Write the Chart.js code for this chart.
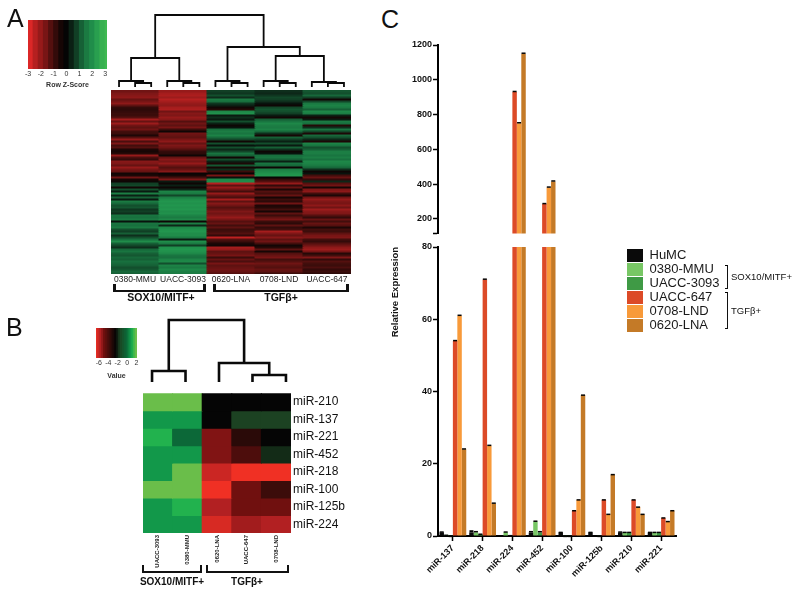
<!DOCTYPE html>
<html>
<head>
<meta charset="utf-8">
<script src="https://cdn.jsdelivr.net/npm/chart.js@4"></script>
<style>
html,body{margin:0;padding:0;background:#fff;width:800px;height:596px;overflow:hidden}
canvas{position:absolute}
.t{position:absolute;font-family:"Liberation Sans",Arial,sans-serif;color:#111;white-space:nowrap;line-height:1}
.c{transform:translateX(-50%)}
.b{position:absolute;box-sizing:border-box;border-style:solid;border-color:#111;border-top:0}
</style>
</head>
<body>
<canvas id="keyA" width="99" height="69" style="left:18px;top:20px"></canvas>
<canvas id="dendroA" width="241" height="80" style="left:111px;top:10px"></canvas>
<canvas id="heatA" width="240" height="200" style="left:111px;top:90px"></canvas>
<canvas id="keyB" width="61" height="52" style="left:86px;top:328px"></canvas>
<canvas id="dendroB" width="152" height="70" style="left:143px;top:315px"></canvas>
<canvas id="heatB" width="208" height="189" style="left:143px;top:384px"></canvas>
<canvas id="barUpper" width="292" height="203" style="left:388px;top:37px"></canvas>
<canvas id="barLower" width="292" height="356" style="left:388px;top:240px"></canvas>
<canvas id="legendC" width="110" height="90" style="left:626px;top:248px"></canvas>

<div class="t" style="left:7px;top:6px;font-size:25px">A</div>
<div class="t" style="left:6px;top:315px;font-size:25px">B</div>
<div class="t" style="left:381px;top:7px;font-size:25px">C</div>

<div class="b" style="left:113px;top:284px;width:93px;height:8px;border-width:0 3px 2px 3px"></div>
<div class="b" style="left:213px;top:284px;width:136px;height:8px;border-width:0 3px 2px 3px"></div>
<div class="t c" style="left:161px;top:292px;font-size:10.5px;font-weight:bold">SOX10/MITF+</div>
<div class="t c" style="left:281px;top:292px;font-size:10.5px;font-weight:bold">TGFβ+</div>

<div class="b" style="left:142px;top:565px;width:60px;height:8px;border-width:0 2px 2px 2px"></div>
<div class="b" style="left:206px;top:565px;width:83px;height:8px;border-width:0 2px 2px 2px"></div>
<div class="t c" style="left:172px;top:577px;font-size:10px;font-weight:bold;font-family:'Liberation Sans Narrow','Liberation Sans',sans-serif">SOX10/MITF+</div>
<div class="t c" style="left:247px;top:577px;font-size:10px;font-weight:bold;font-family:'Liberation Sans Narrow','Liberation Sans',sans-serif">TGFβ+</div>

<div class="b" style="left:725px;top:265px;width:3px;height:24px;border-width:1px 1px 1px 0;border-top-style:solid"></div>
<div class="b" style="left:725px;top:292px;width:3px;height:37px;border-width:1px 1px 1px 0;border-top-style:solid"></div>
<div class="t" style="left:731px;top:272px;font-size:9.5px">SOX10/MITF+</div>
<div class="t" style="left:731px;top:306px;font-size:9.5px">TGFβ+</div>

<script>
const FONT = '"Liberation Sans", Arial, sans-serif';
Chart.defaults.font.family = FONT;
Chart.defaults.animation = false;
Chart.defaults.responsive = false;
Chart.defaults.plugins.legend.display = false;
Chart.defaults.plugins.tooltip.enabled = false;

/* ---------- Panel A: z-scores, 92 rows top to bottom ---------- */
const samplesA = ['0380-MMU','UACC-3093','0620-LNA','0708-LND','UACC-647'];
const a0380 = [-1.5,-1.7,-1.8,-1.9,-1.4,-1.6,-1.9,-1.3,-0.8,-0.7,-0.8,-0.9,-0.9,-1.2,-2.2,-1.4,-2.1,-1.5,-1.3,-1.5,-1.0,-0.9,-0.5,-1.2,-2.0,-1.1,-1.7,-1.0,-1.2,-0.5,-0.4,
 -0.6,-2.0,-1.1,-0.8,-1.8,-1.7,-1.4,-2.0,-1.6,-1.4,-0.3,-0.5,-1.5,-0.4,-0.2,0.8,0.9,-0.3,1.0,0.3,1.7,0.4,1.2,0.3,1.6,1.3,1.0,1.1,0.7,0.8,0.6,
 1.5,1.4,1.6,0.2,1.5,1.4,1.6,1.0,0.8,1.2,0.6,1.0,1.4,2.0,1.2,0.9,0.6,1.3,1.5,1.2,1.1,1.3,1.2,1.4,1.3,1.2,1.0,1.1,1.3,1.2];
const a3093 = [-2.0,-2.2,-2.3,-2.1,-2.4,-2.2,-2.0,-1.9,-2.2,-2.3,-1.5,-1.8,-1.7,-2.0,-1.8,-1.2,-1.5,-1.3,-1.6,-0.9,-0.2,-1.5,-1.4,-1.3,-1.6,-1.9,-1.4,-1.7,-1.5,-1.2,-0.8,
 -0.7,-0.2,-1.4,-1.8,-1.6,-2.0,-1.5,-1.2,-1.4,-1.8,-0.1,-0.4,-1.0,-1.7,0.3,-0.2,0.4,-0.2,0.5,1.8,1.6,0.9,1.7,2.0,2.2,2.1,2.2,2.1,2.2,2.0,2.1,
 1.8,1.6,1.9,-0.2,1.7,0.5,1.9,2.1,2.2,2.0,2.0,1.6,0.3,2.0,1.6,0.8,2.1,2.2,2.1,1.9,1.5,1.4,1.8,1.9,1.0,1.8,1.6,1.9,1.7,1.6];
const a0620 = [0.8,0.7,1.0,0.6,1.6,1.4,0.7,0.4,-0.3,-0.6,1.9,2.1,0.3,0.6,0.3,1.0,0.4,-0.2,0.2,1.4,1.7,1.5,1.8,1.3,0.9,-0.3,1.0,0.2,1.0,0.5,0.9,
 1.5,1.2,-0.3,1.0,0.4,-0.5,1.1,-0.4,0.6,-0.9,-0.1,-1.6,0.2,1.9,2.0,-2.4,-1.3,-2.0,-1.5,-1.0,-2.0,-1.4,-1.1,-2.2,-1.3,-1.8,-1.5,-1.2,-1.4,-1.7,-1.5,
 -1.7,-2.0,-1.6,-1.2,-1.4,-1.0,-1.3,-0.9,-1.0,-1.2,-0.8,-2.5,-1.2,-0.9,-0.5,-0.3,-2.2,-2.0,-1.3,-1.4,-1.6,-0.9,-1.4,-1.1,-1.6,-1.3,-1.4,-1.5,-1.4,-1.2];
const a0708 = [0.6,0.5,0.7,0.9,0.8,0.6,0.2,-0.2,0.9,1.1,1.0,0.8,0.3,-0.3,1.2,1.5,1.9,1.7,1.6,1.8,1.3,0.6,-0.4,1.2,0.8,0.4,1.0,0.3,1.2,0.6,-0.2,
 0.2,1.4,1.5,1.2,0.4,1.5,1.3,-0.2,1.7,1.9,2.1,2.2,-0.1,-0.8,-1.2,-2.0,-0.8,-1.4,-0.5,-1.2,-1.0,-1.4,-0.4,-0.9,-0.7,-1.5,-0.5,-0.6,-1.0,-0.4,-1.3,
 -0.9,-1.3,-1.6,-0.9,-0.7,-1.3,-0.8,-1.0,-2.2,-1.7,-1.4,-1.8,-1.3,-1.5,-1.0,-0.3,-0.6,-1.3,-0.4,-1.2,-1.4,-1.6,-1.0,-1.2,-1.5,-1.3,-1.2,-1.4,-1.3,-0.9];
const a647 = [1.1,1.0,1.3,0.8,-0.3,0.9,1.6,1.8,1.6,1.2,1.9,1.7,0.4,-0.4,0.3,1.6,1.4,-0.6,0.6,1.5,0.9,-0.5,1.3,1.0,0.5,-0.5,1.8,1.5,1.0,1.2,1.7,
 1.7,1.5,1.7,1.4,1.9,1.8,1.6,1.3,0.6,-0.2,0.2,-1.0,-1.4,-0.8,0.5,-1.2,-1.5,-0.4,-1.7,-1.9,-1.0,-0.5,-1.5,-2.0,-1.7,-1.6,-1.9,-1.5,-2.1,-1.8,-1.7,
 -1.2,-0.8,-1.4,-1.0,-1.4,-1.2,-0.5,-1.0,-0.9,-1.3,-1.6,-1.7,-1.0,-0.8,-1.2,-1.5,-1.9,-2.1,-1.6,-0.6,-1.0,-1.7,-0.8,-1.2,-1.0,-0.9,-1.1,-0.8,-0.9,-0.7];
const keyAValues = [-2.8,-2.4,-2,-1.6,-1.2,-0.8,-0.4,0,0.4,0.8,1.2,1.6,2,2.4,2.8,3.2];

/* dendrogram links: left leaf, right leaf, left base, right base, top */
const dendroALinks = [
 [1,2,0,0,4],[0,1.5,0,4,6],[4,5,0,0,4],[3,4.5,0,4,6],[7,8,0,0,4],[6,7.5,0,4,6],
 [10,11,0,0,4],[9,10.5,0,4,6],[13,14,0,0,4],[12,13.5,0,4,5],
 [0.75,3.75,6,6,29],[9.75,12.75,6,5,31],[6.75,11.25,6,31,40],[2.25,9,29,40,72]];

/* ---------- Panel B ---------- */
const samplesB = ['UACC-3093','0380-MMU','0620-LNA','UACC-647','0708-LND'];
const mirsB = ['miR-210','miR-137','miR-221','miR-452','miR-218','miR-100','miR-125b','miR-224'];
const b3093 = [1.9,0.8,1.3,0.8,0.8,1.9,0.8,0.8];
const b0380 = [1.9,0.8,0.0,0.8,1.9,1.9,1.3,0.8];
const b0620 = [-2.3,-2.3,-5.0,-5.0,-6.0,-6.6,-5.6,-6.2];
const b647  = [-2.3,-1.5,-3.2,-4.0,-6.6,-4.8,-4.8,-5.4];
const b0708 = [-2.3,-1.5,-2.3,-1.8,-6.6,-3.6,-4.8,-5.6];
const keyBValues = [-6.4,-6,-5.6,-5.2,-4.8,-4.4,-4,-3.6,-3.2,-2.8,-2.4,-2,-1.6,-1.2,-0.8,-0.4,0,0.4,0.8,1.2,1.6,2];
const dendroBLinks = [[0,1,0,0,11],[3,4,0,0,7],[2,3.5,0,7,19],[0.5,2.75,11,19,62]];

/* ---------- Panel C ---------- */
const mirsC = ['miR-137','miR-218','miR-224','miR-452','miR-100','miR-125b','miR-210','miR-221'];
const seriesNames = ['HuMC','0380-MMU','UACC-3093','UACC-647','0708-LND','0620-LNA'];
const humc    = [1,1,0,1,1,1,1,1];
const mmu0380 = [0.3,1,1,4,0.1,0,1,1];
const uacc3093= [0.1,0.5,0.2,1,0.1,0.1,1,1];
const uacc647 = [54,71,930,285,7,10,10,5];
const lnd0708 = [61,25,750,380,10,6,8,4];
const lna0620 = [24,9,1150,415,39,17,6,7];
const errHumc = [0.3,0.6,0,0.4,0.2,0.2,0.3,0.2];
const err0380 = [0.1,0.4,0.3,0.3,0,0,0.2,0.2];
const err3093 = [0,0.2,0.1,0.4,0,0,0.2,0.2];
const err647  = [0.3,0.3,7,7,0.2,0.2,0.2,0.2];
const err0708 = [0.3,0.3,7,7,0.2,0.2,0.2,0.2];
const err0620 = [0.3,0.3,7,7,0.2,0.2,0.2,0.2];
const seriesColors = ['#0a0a0a','#78c765','#3f9a45','#dc4a27','#f89a3a','#c47a27'];

/* ---------- helpers ---------- */
function mix(stops, v){
  const css = c => 'rgb(' + c.map(Math.round).join(',') + ')';
  if (v <= stops[0][0]) return css(stops[0][1]);
  for (let i = 1; i < stops.length; i++){
    if (v <= stops[i][0]){
      const [a,ca] = stops[i-1], [b,cb] = stops[i], t = (v-a)/(b-a);
      return css(ca.map((c,k)=>c+(cb[k]-c)*t));
    }
  }
  return css(stops[stops.length-1][1]);
}
const stopsA = [[-3,[238,42,42]],[-2.3,[172,30,30]],[-1.5,[112,20,20]],[-1,[66,14,12]],[-0.4,[22,6,5]],[0,[5,5,5]],[0.6,[14,46,28]],[1.4,[24,112,62]],[2.2,[34,150,78]],[3,[62,185,80]]];
const colorA = v => mix(stopsA, v);
const stopsB = [[-6.6,[240,48,36]],[-5.6,[178,32,34]],[-4.8,[112,16,15]],[-3.2,[42,10,8]],[-2.3,[5,5,5]],[-1.5,[28,66,34]],[0,[12,104,56]],[0.8,[18,152,74]],[1.3,[34,178,78]],[1.9,[106,190,74]],[2.1,[106,190,74]]];
const colorB = v => mix(stopsB, v);

function heatmap(id, columns, rowCount, colorOf, labels, extra){
  const datasets = [];
  for (let r = 0; r < rowCount; r++){
    datasets.push({
      data: columns.map(()=>1),
      backgroundColor: columns.map(col=>colorOf(col[r])),
      borderWidth: 0, inflateAmount: 0.5,
      barPercentage: 1, categoryPercentage: 1, stack: 'h'
    });
  }
  return new Chart(document.getElementById(id), {
    type:'bar',
    data:{labels, datasets},
    options:Object.assign({layout:{autoPadding:false}}, extra)
  });
}

heatmap('heatA',[a0380,a3093,a0620,a0708,a647],92,colorA,samplesA,{
  scales:{
    x:{stacked:true,grid:{display:false,drawTicks:false},border:{display:false},
       ticks:{color:'#222',font:{size:8.5},padding:1,maxRotation:0,minRotation:0,autoSkip:false},
       afterFit:s=>{s.height=16}},
    y:{stacked:true,reverse:true,min:0,max:92,display:false}
  }
});

heatmap('heatB',[b3093,b0380,b0620,b647,b0708],8,colorB,samplesB,{
  scales:{
    x:{stacked:true,grid:{display:false,drawTicks:false},border:{display:false},
       ticks:{color:'#222',font:{size:6,weight:'bold'},padding:2,maxRotation:90,minRotation:90,autoSkip:false},
       afterFit:s=>{s.height=40}},
    y:{stacked:true,reverse:true,min:0,max:8,position:'right',
       grid:{display:false,drawTicks:false},border:{display:false},
       afterBuildTicks:s=>{s.ticks=mirsB.map((m,i)=>({value:i+0.5}))},
       ticks:{color:'#111',font:{size:12},padding:2,autoSkip:false,
              callback:v=>mirsB[Math.floor(v)]},
       afterFit:s=>{s.width=60}}
  }
});

function colorKey(id, values, colorOf, min, max, step, title, pad, axisH, tsize){
  return new Chart(document.getElementById(id),{
    type:'bar',
    data:{datasets:[{
      data:values.map(v=>({x:v,y:1})),
      backgroundColor:values.map(colorOf),
      borderWidth:0,inflateAmount:0.5,barPercentage:1,categoryPercentage:1
    }]},
    options:{
      layout:{autoPadding:false,padding:pad},
      scales:{
        x:{type:'linear',offset:false,min,max,grid:{display:false,drawTicks:false},border:{display:false},
           ticks:{stepSize:step,includeBounds:false,color:'#333',font:{size:tsize},padding:1,maxRotation:0},
           title:{display:true,text:title,color:'#333',font:{size:tsize,weight:'bold'},padding:{top:0,bottom:0}},
           afterFit:s=>{s.height=axisH}},
        y:{display:false,min:0,max:1}
      }
    }
  });
}
colorKey('keyA',keyAValues,colorA,-3,3.15,1,'Row Z-Score',{left:10,right:10,top:0,bottom:0},20,7);
colorKey('keyB',keyBValues,colorB,-6.6,2.1,2,'Value',{left:10,right:10,top:0,bottom:0},22,7);

function dendro(id, links, xmin, xmax, ymin, ymax, lw){
  return new Chart(document.getElementById(id),{
    type:'scatter',
    data:{datasets:links.map(([x1,x2,b1,b2,t])=>({
      data:[{x:x1,y:b1},{x:x1,y:t},{x:x2,y:t},{x:x2,y:b2}],
      showLine:true,pointRadius:0,borderColor:'#0a0a0a',borderWidth:lw,
      tension:0,clip:false,borderJoinStyle:'miter'
    }))},
    options:{
      layout:{autoPadding:false},
      scales:{x:{type:'linear',display:false,min:xmin,max:xmax},y:{type:'linear',display:false,min:ymin,max:ymax}}
    }
  });
}
dendro('dendroA',dendroALinks,-0.5,14.5,-3,77,1.8);
dendro('dendroB',dendroBLinks,-0.27,4.27,-3,67,2.6);

/* bars */
const seriesData = [humc,mmu0380,uacc3093,uacc647,lnd0708,lna0620];
const seriesErr  = [errHumc,err0380,err3093,err647,err0708,err0620];
const errorCaps = {
  id:'errorCaps',
  afterDatasetsDraw(chart){
    const {ctx,scales:{y}} = chart;
    ctx.save();
    ctx.fillStyle='#050505';
    seriesData.forEach((vals,i)=>{
      chart.getDatasetMeta(i).data.forEach((bar,j)=>{
        const v = vals[j], e = seriesErr[i][j];
        if (v <= 0 || v + e > y.max || v < y.min) return;
        const top = y.getPixelForValue(v+e), base = y.getPixelForValue(v);
        ctx.fillRect(bar.x-2, top, 4, Math.max(1.5, base-top));
      });
    });
    ctx.restore();
  }
};
const barDatasets = () => seriesNames.map((n,i)=>({
  label:n,data:seriesData[i],backgroundColor:seriesColors[i],
  borderWidth:0,inflateAmount:0,barPercentage:1,categoryPercentage:0.9
}));
const axisStyle = {
  grid:{display:true,drawOnChartArea:false,drawTicks:true,tickLength:5,tickWidth:1.5,tickColor:'#000'},
  border:{display:true,width:2,color:'#000'}
};

new Chart(document.getElementById('barUpper'),{
  type:'bar',
  data:{labels:mirsC,datasets:barDatasets()},
  plugins:[errorCaps],
  options:{
    layout:{autoPadding:false,padding:{top:8,bottom:3,right:4}},
    scales:{
      x:{display:false},
      y:Object.assign({},axisStyle,{min:115,max:1200,
        ticks:{stepSize:200,color:'#111',font:{size:9,weight:'bold'},padding:1,
               callback:v=>v%200===0?String(v):''},
        afterFit:s=>{s.width=50}})
    }
  }
});

new Chart(document.getElementById('barLower'),{
  type:'bar',
  data:{labels:mirsC,datasets:barDatasets()},
  plugins:[errorCaps],
  options:{
    layout:{autoPadding:false,padding:{top:7,right:4}},
    scales:{
      x:{
        grid:{display:true,offset:false,drawOnChartArea:false,drawTicks:true,tickLength:5,tickWidth:1.5,tickColor:'#000'},
        border:{display:true,width:2,color:'#000'},
        ticks:{color:'#111',font:{size:9,weight:'bold'},padding:2,maxRotation:45,minRotation:45,autoSkip:false},
        afterFit:s=>{s.height=60}},
      y:Object.assign({},axisStyle,{min:0,max:80,
        ticks:{stepSize:20,color:'#111',font:{size:9,weight:'bold'},padding:1},
        title:{display:true,text:'Relative Expression',align:'end',color:'#111',font:{size:9.5,weight:'bold'},padding:{top:2,bottom:0}},
        afterFit:s=>{s.width=50}})
    }
  }
});

new Chart(document.getElementById('legendC'),{
  type:'bar',
  data:{labels:[],datasets:seriesNames.map((n,i)=>({label:n,data:[],backgroundColor:seriesColors[i],borderWidth:0}))},
  options:{
    layout:{autoPadding:false},
    scales:{x:{display:false},y:{display:false}},
    plugins:{legend:{display:true,position:'left',align:'start',maxWidth:110,
      labels:{boxWidth:16,boxHeight:13,padding:1,color:'#1a1a1a',font:{size:13}}}}
  }
});
</script>
</body>
</html>
